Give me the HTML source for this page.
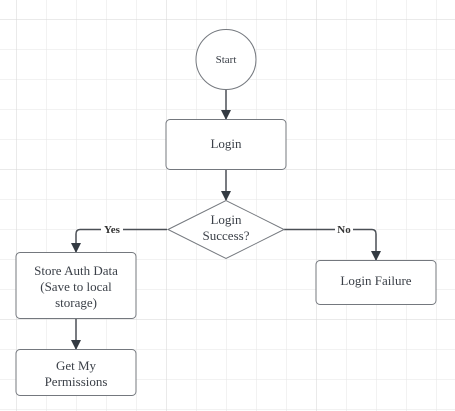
<!DOCTYPE html>
<html><head><style>body{margin:0;background:#fff}svg{display:block}</style></head><body>
<svg width="455" height="411" xmlns="http://www.w3.org/2000/svg" font-family="Liberation Serif, serif" fill="none">
<defs>
<pattern id="g" x="16" y="19" width="30" height="30" patternUnits="userSpaceOnUse"><path d="M0 0V30M0 0H30" stroke="#e6e6e6" stroke-width="1"/></pattern>
<pattern id="G" x="16" y="19" width="150" height="150" patternUnits="userSpaceOnUse"><path d="M0 0V150M0 0H150" stroke="#d6d6d6" stroke-width="1"/></pattern>
<marker id="a" markerWidth="10" markerHeight="12" refX="9" refY="5" orient="auto" markerUnits="userSpaceOnUse"><path d="M0 0L10 5L0 10Z" fill="#333a42"/></marker>
</defs>
<rect width="455" height="411" fill="url(#g)"/>
<rect width="455" height="411" fill="url(#G)"/>
<g stroke="#4a4f55" stroke-width="1.5" marker-end="url(#a)">
<path d="M226 90V119"/>
<path d="M226 170V200"/>
<path d="M167 229.5H80Q76 229.5 76 234V252"/>
<path d="M284 229.5H372Q376 229.5 376 234V260"/>
<path d="M76 318V349"/>
</g>
<g stroke="#74787e" stroke-width="1" fill="#fff">
<circle cx="226" cy="59.5" r="30"/>
<rect x="166" y="119.5" width="120" height="50" rx="4"/>
<path d="M168 229.5L226 200.5L284 229.5L226 258.5Z"/>
<rect x="16" y="252.5" width="120" height="66" rx="4"/>
<rect x="16" y="349.5" width="120" height="46" rx="4"/>
<rect x="316" y="260.5" width="120" height="44" rx="4"/>
</g>
<g fill="#3b4048" text-anchor="middle" font-size="13">
<text x="226" y="63" font-size="11">Start</text>
<text x="226" y="148">Login</text>
<text x="226" y="224">Login</text>
<text x="226" y="240">Success?</text>
<text x="76" y="275">Store Auth Data</text>
<text x="76" y="291">(Save to local</text>
<text x="76" y="307">storage)</text>
<text x="76" y="370">Get My</text>
<text x="76" y="386">Permissions</text>
<text x="376" y="285">Login Failure</text>
</g>
<g fill="#333" font-weight="bold" font-size="11" text-anchor="middle">
<rect x="101" y="223" width="22" height="12" fill="#fff"/>
<text x="112" y="233">Yes</text>
<rect x="335" y="223" width="18" height="12" fill="#fff"/>
<text x="344" y="233">No</text>
</g>
</svg>
</body></html>
